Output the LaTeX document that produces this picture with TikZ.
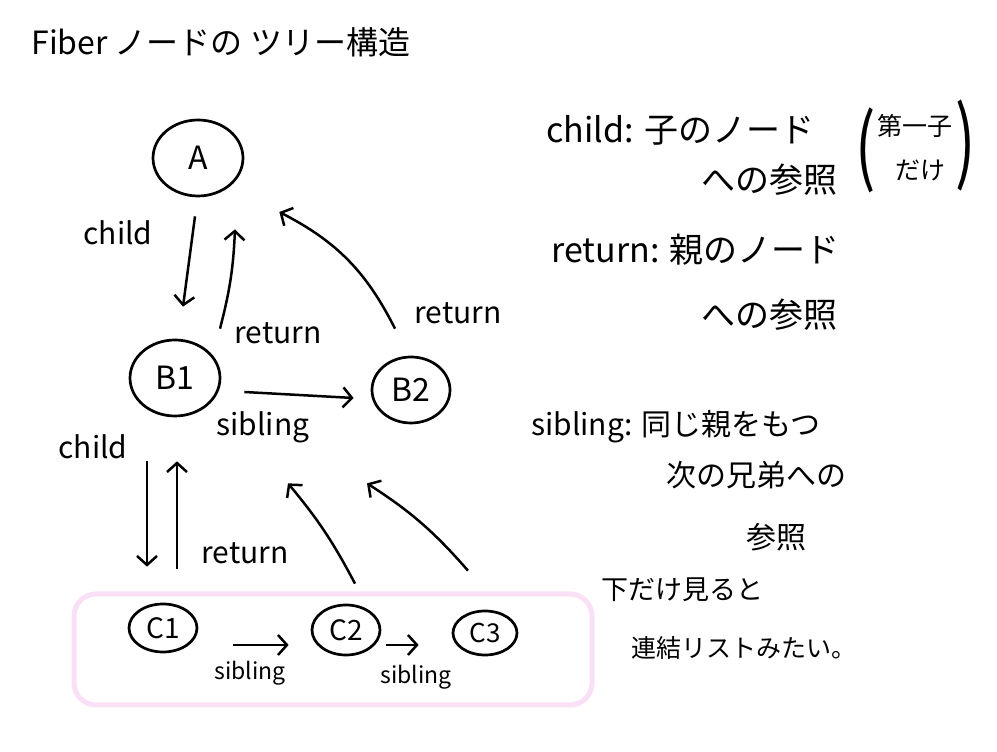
\documentclass[tikz,border=0pt]{standalone}
\usepackage{fontspec}
\setmainfont{Noto Sans CJK JP}
\usepackage{xcolor}
\usetikzlibrary{shapes.geometric,arrows.meta,calc}
\definecolor{listpink}{RGB}{250,224,246}

\begin{document}
\begin{tikzpicture}[x=1pt, y=1pt, line width=2.7pt,
    fnode/.style={draw, ellipse, inner sep=0pt, font=\fontsize{32}{34}\selectfont},
    arr/.style={-{Straight Barb[length=9pt,width=20pt]}, line width=2.5pt},
    lbl/.style={font=\fontsize{30}{32}\selectfont},
    note/.style={anchor=west, inner sep=0pt}]
    \useasboundingbox (0,0) rectangle (997,752);

    % -------------------------
    % Title
    % -------------------------
    \node[note, font=\fontsize{32}{34}\selectfont] (title) at (30,710) {Fiber ノードの ツリー構造};

    % -------------------------
    % Linked list frame (behind)
    % -------------------------
    \draw[listpink, line width=5pt, rounded corners=22pt] (74,47) rectangle (592,158);

    % -------------------------
    % Fiber nodes
    % -------------------------
    \node[fnode, minimum width=90pt, minimum height=76pt] (A) at (198,594) {A};
    \node[fnode, minimum width=90pt, minimum height=76pt] (B1) at (175,374) {B1};
    \node[fnode, minimum width=78pt, minimum height=66pt] (B2) at (411,362) {B2};
    \node[fnode, minimum width=68pt, minimum height=48pt, font=\fontsize{28}{30}\selectfont] (C1) at (163,124) {C1};
    \node[fnode, minimum width=68pt, minimum height=50pt, font=\fontsize{28}{30}\selectfont] (C2) at (346,122) {C2};
    \node[fnode, minimum width=64pt, minimum height=44pt, font=\fontsize{26}{28}\selectfont] (C3) at (485,119) {C3};

    % -------------------------
    % A <-> B1, B2
    % -------------------------
    \draw[arr] ($(A.south)+(-3,-19)$) -- ($(B1.north)+(8,32)$);
    \node[lbl] (lchildA) at (118,519) {child};
    \draw[arr] ($(B1.north)+(45,10)$) to[bend right=6] ($(A.south)+(37,-32)$);
    \node[lbl] (lretB1) at (278,419) {return};
    \draw[arr] ($(B2.north)+(-16,27)$) to[bend right=18] ($(A.east)+(35,-54)$);
    \node[lbl] (lretB2) at (458,439) {return};
    \draw[arr] ($(B1.east)+(23,-14)$) -- ($(B2.west)+(-17,-8)$);
    \node[lbl] (lsibB) at (263,325) {sibling};

    % -------------------------
    % B1 <-> C1, C2, C3
    % -------------------------
    \draw[arr] ($(B1.south)+(-28,-44)$) -- ($(C1.north)+(-16,36)$);
    \node[lbl] (lchildB1) at (93,305) {child};
    \draw[arr] ($(C1.north)+(14,34)$) -- ($(B1.south)+(2,-44)$);
    \node[lbl] (lretC1) at (245,199) {return};
    \draw[arr] ($(C2.north)+(9,20)$) to[bend right=6] ($(B1.south)+(113,-66)$);
    \draw[arr] ($(C3.north)+(-17,39)$) to[bend right=8] ($(B1.south)+(192,-66)$);

    % -------------------------
    % C1 -> C2 -> C3
    % -------------------------
    \draw[arr] ($(C1.east)+(35,-17)$) -- ($(C2.west)+(-22,-15)$);
    \node[lbl, font=\fontsize{23}{25}\selectfont] (lsibC1) at (250,79) {sibling};
    \draw[arr] ($(C2.east)+(5,-15)$) -- ($(C3.west)+(-33,-12)$);
    \node[lbl, font=\fontsize{23}{25}\selectfont] (lsibC2) at (416,75) {sibling};

    % -------------------------
    % Notes on the right
    % -------------------------
    \node[note, font=\fontsize{34}{36}\selectfont] (nchild) at (545,622) {child: 子のノード};
    \node[note, font=\fontsize{34}{36}\selectfont] (nchild2) at (700,572) {への参照};
    \node[font=\fontsize{60}{60}\selectfont] (popen) at (866,602) {\scalebox{1}[1.4]{(}};
    \node[font=\fontsize{25}{27}\selectfont] (nfirst) at (915,626) {第一子};
    \node[font=\fontsize{25}{27}\selectfont] (nonly) at (920,582) {だけ};
    \node[font=\fontsize{60}{60}\selectfont] (pclose) at (966,606) {\scalebox{1}[1.5]{)}};
    \node[note, font=\fontsize{34}{36}\selectfont] (nret) at (550,502) {return: 親のノード};
    \node[note, font=\fontsize{34}{36}\selectfont] (nret2) at (700,437) {への参照};
    \node[note, font=\fontsize{30}{32}\selectfont] (nsib) at (530,325) {sibling: 同じ親をもつ};
    \node[note, font=\fontsize{30}{32}\selectfont] (nsib2) at (665,277) {次の兄弟への};
    \node[note, font=\fontsize{30}{32}\selectfont] (nsib3) at (745,215) {参照};
    \node[note, font=\fontsize{27}{29}\selectfont] (nlist) at (600,162) {下だけ見ると};
    \node[note, font=\fontsize{25}{27}\selectfont] (nlist2) at (630,104) {連結リストみたい。};

\end{tikzpicture}
\end{document}
